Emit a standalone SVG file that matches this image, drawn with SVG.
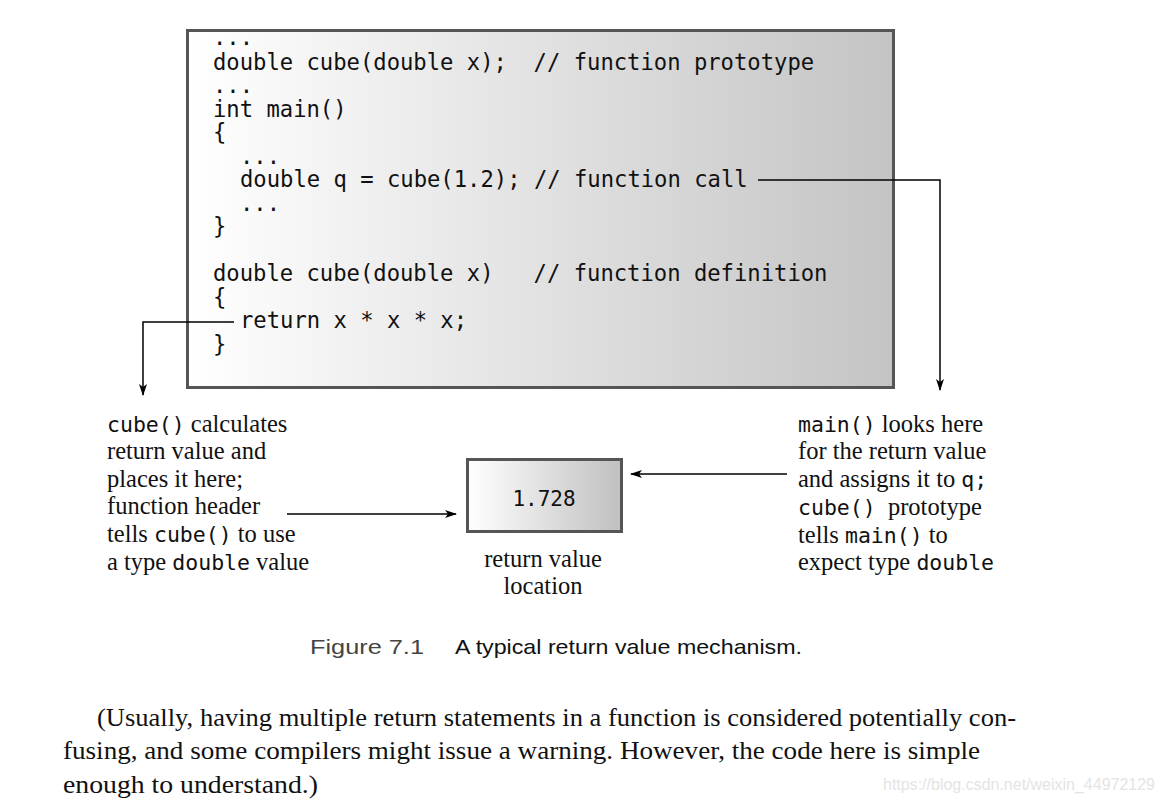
<svg xmlns="http://www.w3.org/2000/svg" width="1164" height="802" viewBox="0 0 1164 802">
<defs>
<linearGradient id="gMain" x1="0" y1="0" x2="1" y2="0">
<stop offset="0" stop-color="#ffffff"/>
<stop offset="1" stop-color="#c4c4c4"/>
</linearGradient>
<linearGradient id="gVal" x1="0" y1="0" x2="1" y2="0">
<stop offset="0" stop-color="#ffffff"/>
<stop offset="1" stop-color="#c0c0c0"/>
</linearGradient>
<marker id="arr" viewBox="0 0 12 8" refX="11" refY="4" markerWidth="12" markerHeight="8" markerUnits="userSpaceOnUse" orient="auto">
<path d="M0,0 L12,4 L0,8 L3,4 z" fill="#000"/>
</marker>
<style>
.code{font-family:"DejaVu Sans Mono","Liberation Mono",monospace;font-size:22.2px;fill:#111;white-space:pre;}
.ser{font-family:"Liberation Serif","Times New Roman",serif;font-size:24.5px;fill:#111;white-space:pre;}
.mono{font-family:"DejaVu Sans Mono","Liberation Mono",monospace;font-size:21.5px;}
.cap{font-family:"Liberation Sans",Arial,sans-serif;font-size:21px;}
.conn{fill:none;stroke:#000;stroke-width:1.5;}
.box{stroke:#555;stroke-width:3;}
</style>
</defs>
<rect width="1164" height="802" fill="#fff"/>

<g id="code-box">
<rect class="box" x="187.5" y="30.5" width="706" height="357" fill="url(#gMain)"/>
<g class="code">
<text x="213" y="45">...</text>
<text x="213" y="69.5" xml:space="preserve">double cube(double x);  // function prototype</text>
<text x="213" y="93">...</text>
<text x="213" y="116.5">int main()</text>
<text x="213" y="140">{</text>
<text x="240" y="163.5">...</text>
<text x="240" y="187">double q = cube(1.2); // function call</text>
<text x="240" y="210.5">...</text>
<text x="213" y="234">}</text>
<text x="213" y="281" xml:space="preserve">double cube(double x)   // function definition</text>
<text x="213" y="304.5">{</text>
<text x="240" y="328">return x * x * x;</text>
<text x="213" y="351.5">}</text>
</g>
</g>

<g id="value-box">
<rect class="box" x="467.5" y="459.5" width="154" height="72" fill="url(#gVal)"/>
<text x="544" y="506" text-anchor="middle" font-family="DejaVu Sans Mono, Liberation Mono, monospace" font-size="21" fill="#111">1.728</text>
</g>

<g id="value-label" class="ser">
<text x="543" y="567" text-anchor="middle">return value</text>
<text x="543" y="594" text-anchor="middle">location</text>
</g>

<g id="left-note" class="ser">
<text x="107" y="432"><tspan class="mono">cube()</tspan> calculates</text>
<text x="107" y="459">return value and</text>
<text x="107" y="487">places it here;</text>
<text x="107" y="514">function header</text>
<text x="107" y="542">tells <tspan class="mono">cube()</tspan> to use</text>
<text x="107" y="570">a type <tspan class="mono">double</tspan> value</text>
</g>

<g id="right-note" class="ser">
<text x="798" y="432"><tspan class="mono">main()</tspan> looks here</text>
<text x="798" y="459">for the return value</text>
<text x="798" y="487">and assigns it to <tspan class="mono">q;</tspan></text>
<text x="798" y="515" xml:space="preserve"><tspan class="mono">cube()</tspan>  prototype</text>
<text x="798" y="543">tells <tspan class="mono">main()</tspan> to</text>
<text x="798" y="570">expect type <tspan class="mono">double</tspan></text>
</g>

<g id="connectors">
<polyline class="conn" points="234,322 143,322 143,395" marker-end="url(#arr)"/>
<polyline class="conn" points="758,180 940,180 940,390" marker-end="url(#arr)"/>
<line class="conn" x1="287" y1="514" x2="456" y2="514" marker-end="url(#arr)"/>
<line class="conn" x1="787" y1="474" x2="631" y2="474" marker-end="url(#arr)"/>
</g>

<g id="caption" class="cap">
<text x="310" y="654" fill="#444" textLength="114" lengthAdjust="spacingAndGlyphs">Figure 7.1</text>
<text x="455" y="654" fill="#111" textLength="347" lengthAdjust="spacingAndGlyphs">A typical return value mechanism.</text>
</g>

<g id="paragraph" font-family="Liberation Serif, Times New Roman, serif" font-size="25" fill="#111">
<text x="97" y="726" textLength="919" lengthAdjust="spacingAndGlyphs">(Usually, having multiple return statements in a function is considered potentially con-</text>
<text x="63" y="759" textLength="917" lengthAdjust="spacingAndGlyphs">fusing, and some compilers might issue a warning. However, the code here is simple</text>
<text x="63" y="793" textLength="255" lengthAdjust="spacingAndGlyphs">enough to understand.)</text>
</g>

<text x="883" y="790" font-family="Liberation Sans, Arial, sans-serif" font-size="16" fill="#e4e4e4" textLength="272" lengthAdjust="spacingAndGlyphs">https://blog.csdn.net/weixin_44972129</text>
</svg>
